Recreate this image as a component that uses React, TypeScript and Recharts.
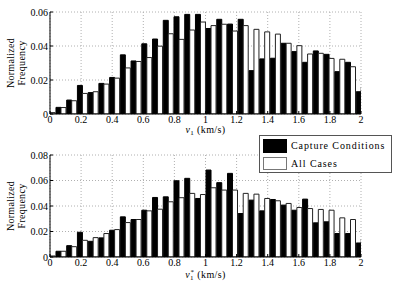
import { Bar, BarChart, CartesianGrid, XAxis, YAxis } from "recharts";

const binCenters = [
  0, 0.069, 0.138, 0.207, 0.276, 0.345, 0.414, 0.483, 0.552, 0.621, 0.69, 0.759, 0.828, 0.897, 0.966,
  1.034, 1.103, 1.172, 1.241, 1.31, 1.379, 1.448, 1.517, 1.586, 1.655, 1.724, 1.793, 1.862, 1.931, 2.0,
];

const captureV1 = [
  0.001, 0.0039, 0.0082, 0.0168, 0.0126, 0.018, 0.0215, 0.0348, 0.0312, 0.0413, 0.0441, 0.0551, 0.0572, 0.0586, 0.0586,
  0.0503, 0.0557, 0.0529, 0.0557, 0.0255, 0.0324, 0.0328, 0.0416, 0.0367, 0.0304, 0.0371, 0.0351, 0.0249, 0.0304, 0.0131,
];
const allV1 = [
  0.0008, 0.0038, 0.0078, 0.0121, 0.0131, 0.0176, 0.0211, 0.0271, 0.0309, 0.0332, 0.0399, 0.0472, 0.0439, 0.0494, 0.0541,
  0.052, 0.0528, 0.0488, 0.052, 0.0498, 0.0483, 0.047, 0.0416, 0.0402, 0.0353, 0.0357, 0.0327, 0.0322, 0.0278, 0.0157,
];

const captureV1Star = [
  0.001, 0.0045, 0.0089, 0.0194, 0.0123, 0.015, 0.021, 0.0315, 0.0294, 0.0367, 0.0467, 0.0472, 0.0598, 0.0617, 0.0459,
  0.0682, 0.0583, 0.0656, 0.0341, 0.0446, 0.0362, 0.0451, 0.0407, 0.0367, 0.0454, 0.0268, 0.0276, 0.0184, 0.0184, 0.011,
];
const allV1Star = [
  0.0008, 0.0045, 0.0081, 0.0131, 0.0152, 0.0184, 0.0215, 0.027, 0.0294, 0.0362, 0.0375, 0.0433, 0.0465, 0.0499, 0.049,
  0.0543, 0.0525, 0.0525, 0.0499, 0.0493, 0.0459, 0.0441, 0.042, 0.0388, 0.038, 0.0373, 0.0367, 0.0307, 0.0294, 0.0139,
];

const xTicks = [0, 0.2, 0.4, 0.6, 0.8, 1, 1.2, 1.4, 1.6, 1.8, 2];
const yTicksTop = [0, 0.02, 0.04, 0.06];
const yTicksBottom = [0, 0.02, 0.04, 0.06, 0.08];

const FONT = "'Liberation Serif', 'DejaVu Serif', serif";

const fmtX = (v: number) => (v === 0 || v === 1 || v === 2 ? String(v) : v.toFixed(1));
const fmtY = (v: number) => (v === 0 ? "0" : v.toFixed(2));

const YLabelText = ({ viewBox }: any) => {
  const cy = viewBox.y + viewBox.height / 2;
  return (
    <g transform={`translate(0,${cy}) rotate(-90)`}>
      <text x={0} y={14} fontFamily={FONT} fontSize={10} fill="#000" textAnchor="middle" letterSpacing={0.3}>
        Normalized
      </text>
      <text x={0} y={25} fontFamily={FONT} fontSize={10} fill="#000" textAnchor="middle" letterSpacing={0.3}>
        Frequency
      </text>
    </g>
  );
};

const XLabel = ({ viewBox, star, dyLabel }: any) => {
  const cx = viewBox.x + viewBox.width / 2;
  const y = viewBox.y + dyLabel;
  return (
    <text x={cx} y={y} fontFamily={FONT} fontSize={10} fill="#000" textAnchor="middle" letterSpacing={0.4}>
      <tspan fontStyle="italic">v</tspan>
      <tspan fontSize={7} dy={2}>1</tspan>
      {star ? (
        <tspan fontSize={7} dx={-3.5} dy={-6}>*</tspan>
      ) : null}
      <tspan dy={star ? 4 : -2}> (km/s)</tspan>
    </text>
  );
};

const emptyTick = () => <g />;

type PanelProps = {
  capture: number[];
  all: number[];
  yTicks: number[];
  height: number;
  top: number;
  axisH: number;
  star?: boolean;
  dyLabel: number;
};

const Panel = ({ capture, all, yTicks, height, top, axisH, star, dyLabel }: PanelProps) => {
  const data = binCenters.map((x, i) => ({ x, capture: capture[i], all: all[i] }));
  const yMax = yTicks[yTicks.length - 1];
  return (
    <BarChart
      width={398}
      height={height}
      data={data}
      margin={{ top, right: 37, bottom: 0, left: 0 }}
      barGap={0}
      barCategoryGap="5%"
    >
      <CartesianGrid stroke="#b0b0b0" strokeDasharray="1 2" />
      <XAxis
        dataKey="x"
        type="number"
        domain={[0, 2]}
        ticks={xTicks}
        allowDataOverflow
        tickFormatter={fmtX}
        height={axisH}
        stroke="#000"
        tickSize={-3}
        tickMargin={5}
        tick={{ fontSize: 10, fill: "#000", fontFamily: FONT }}
        label={<XLabel star={star} dyLabel={dyLabel} />}
      />
      <XAxis
        xAxisId="top"
        orientation="top"
        dataKey="x"
        type="number"
        domain={[0, 2]}
        ticks={xTicks}
        height={0}
        stroke="#000"
        tickSize={-3}
        tick={emptyTick}
      />
      <YAxis
        type="number"
        domain={[0, yMax]}
        ticks={yTicks}
        allowDataOverflow
        tickFormatter={fmtY}
        width={50}
        stroke="#000"
        tickSize={-3}
        tickMargin={5}
        tick={{ fontSize: 10, fill: "#000", fontFamily: FONT }}
        label={<YLabelText />}
      />
      <YAxis
        yAxisId="right"
        orientation="right"
        type="number"
        domain={[0, yMax]}
        ticks={yTicks}
        width={0}
        stroke="#000"
        tickSize={-3}
        tick={emptyTick}
      />
      <Bar dataKey="capture" fill="#000" stroke="#000" strokeWidth={1} isAnimationActive={false} />
      <Bar dataKey="all" fill="#fff" stroke="#222" strokeWidth={1} isAnimationActive={false} />
    </BarChart>
  );
};

const Legend = () => (
  <div
    style={{
      position: "absolute",
      left: 259,
      top: 135,
      width: 133,
      height: 38,
      border: "1px solid #555",
      background: "#fff",
      fontFamily: FONT,
      fontSize: 10,
      letterSpacing: 0.9,
      boxSizing: "border-box",
    }}
  >
    <div style={{ position: "absolute", left: 3, top: 3, width: 24, height: 14, background: "#000" }} />
    <div style={{ position: "absolute", left: 31, top: 3, lineHeight: "14px", whiteSpace: "nowrap" }}>Capture Conditions</div>
    <div
      style={{
        position: "absolute",
        left: 3,
        top: 21,
        width: 24,
        height: 13,
        background: "#fff",
        border: "1px solid #777",
        boxSizing: "border-box",
      }}
    />
    <div style={{ position: "absolute", left: 31, top: 21, lineHeight: "13px", whiteSpace: "nowrap" }}>All Cases</div>
  </div>
);

export default function App() {
  return (
    <div style={{ position: "fixed", left: 0, top: 0, width: 398, height: 285, background: "#fff" }}>
      <div style={{ position: "absolute", left: 0, top: 0 }}>
        <Panel capture={captureV1} all={allV1} yTicks={yTicksTop} height={140} top={12} axisH={26} dyLabel={19} />
      </div>
      <div style={{ position: "absolute", left: 0, top: 140 }}>
        <Panel
          capture={captureV1Star}
          all={allV1Star}
          yTicks={yTicksBottom}
          height={145}
          top={15}
          axisH={28}
          star
          dyLabel={21}
        />
      </div>
      <Legend />
    </div>
  );
}
